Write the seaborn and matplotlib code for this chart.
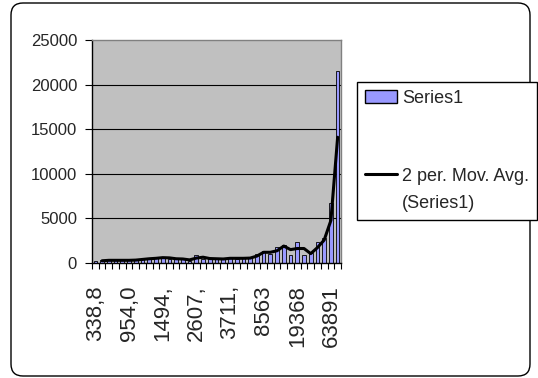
import numpy as np
import pandas as pd
import matplotlib
matplotlib.use("Agg")
import matplotlib.pyplot as plt
import seaborn as sns
from matplotlib.patches import FancyBboxPatch, Patch
from matplotlib.lines import Line2D
from matplotlib.legend_handler import HandlerLine2D
from matplotlib.transforms import IdentityTransform

# valeurs (une barre par classe)
values = [200, 300, 300, 300, 300, 300, 350, 450, 500, 550,
          650, 500, 450, 450, 250, 850, 450, 550, 400, 500,
          550, 500, 550, 550, 1000, 1400, 1000, 1750, 2050, 950,
          2300, 950, 1150, 2300, 2850, 6700, 21500]
# étiquettes visibles (une classe sur 5)
tick_labels = ["338,8", "954,0", "1494,", "2607,", "3711,", "8563", "19368", "63891"]
label_every = 5
series_name = "Series1"
avg_name = "2 per. Mov. Avg.\n(Series1)"

df = pd.DataFrame({"pos": range(len(values)), "value": values})
df["avg"] = df["value"].rolling(2).mean()
n = len(values)

sns.set_style("white")
plt.rcParams["font.family"] = ["Liberation Sans", "DejaVu Sans"]

W, H = 538, 378
fig = plt.figure(figsize=(W / 100, H / 100), dpi=100)
ax = fig.add_axes([92 / W, 1 - 263 / H, 249 / W, 223 / H])
ax.set_facecolor("#C0C0C0")

sns.barplot(data=df, x="pos", y="value", native_scale=True, width=0.55,
            color="#9999FF", saturation=1, edgecolor="black", linewidth=0.6, ax=ax)
sns.lineplot(data=df.dropna(), x="pos", y="avg", color="black", linewidth=2.2, ax=ax)

ax.set_xlim(-0.5, n - 0.5)
ax.set_ylim(0, 25000)
ax.set_xlabel("")
ax.set_ylabel("")

# axe y
ax.set_yticks(range(0, 25001, 5000))
ax.yaxis.grid(True, color="black", linewidth=0.8)
ax.yaxis.get_gridlines()[-1].set_visible(False)
ax.set_axisbelow(True)
ax.tick_params(axis="y", length=5, width=0.8, color="black", labelsize=12, pad=5.8, left=True)

# axe x
ax.set_xticks(np.arange(0, n, label_every))
ax.set_xticklabels(tick_labels, rotation=90, fontsize=16, va="top", ha="center")
ax.set_xticks(np.arange(-0.5, n, 1), minor=True)
ax.tick_params(axis="x", which="major", length=0, pad=16)
ax.tick_params(axis="x", which="minor", length=4.3, width=0.8, color="black", bottom=True)

for s in ["left", "bottom"]:
    ax.spines[s].set_color("black")
    ax.spines[s].set_linewidth(1)
for s in ["top", "right"]:
    ax.spines[s].set_color("#808080")
    ax.spines[s].set_linewidth(1)


# ligne de la légende alignée sur la première ligne du texte
class FirstLineHandler(HandlerLine2D):
    def create_artists(self, legend, orig_handle, xdescent, ydescent, width, height, fontsize, trans):
        arts = super().create_artists(legend, orig_handle, xdescent, ydescent, width, height, fontsize, trans)
        for a in arts:
            a.set_ydata(np.asarray(a.get_ydata()) + 0.875 * fontsize)
        return arts


handles = [Patch(facecolor="#9999FF", edgecolor="black", linewidth=1),
           Line2D([0], [0], color="black", linewidth=2.2)]
leg = fig.legend(handles, [series_name, avg_name], loc="upper left",
                 bbox_to_anchor=(357 / W, 1 - 82 / H), borderaxespad=0,
                 fontsize=13, handlelength=1.75, handletextpad=0.3,
                 labelspacing=3.35, borderpad=0.45, fancybox=False, framealpha=1,
                 edgecolor="black", facecolor="white",
                 handler_map={handles[1]: FirstLineHandler()})
leg.get_frame().set_linewidth(1)
for t in leg.get_texts():
    t.set_linespacing(1.8)

# cadre arrondi du graphique
border = FancyBboxPatch((11, 2), 519, 373, boxstyle="round,pad=0,rounding_size=12",
                        transform=IdentityTransform(), facecolor="none",
                        edgecolor="black", linewidth=1, zorder=0.5)
fig.add_artist(border)

fig.savefig("out.png", dpi=100, facecolor="white")
